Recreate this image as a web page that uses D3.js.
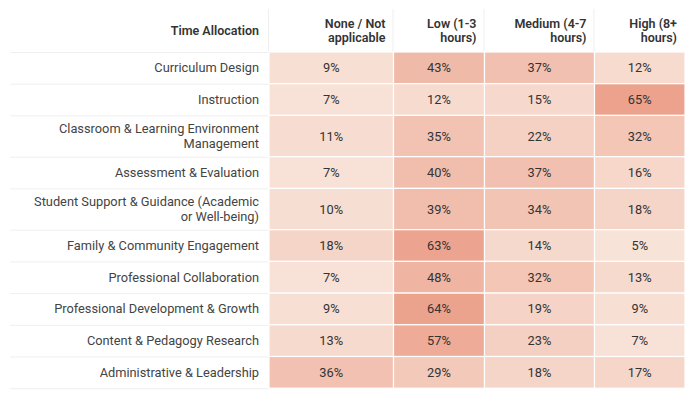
<!DOCTYPE html>
<html>
<head>
<meta charset="utf-8">
<script src="https://cdn.jsdelivr.net/npm/d3@7"></script>
<style>
  body { margin: 0; background: #fff; }
  svg text { font-family: Roboto, "Noto Sans", sans-serif; }
</style>
</head>
<body>
<svg id="chart" width="692" height="398"></svg>
<script>

// row labels ("\n" = line break as in the table)
const activities = [
  "Curriculum Design",
  "Instruction",
  "Classroom & Learning Environment\nManagement",
  "Assessment & Evaluation",
  "Student Support & Guidance (Academic\nor Well-being)",
  "Family & Community Engagement",
  "Professional Collaboration",
  "Professional Development & Growth",
  "Content & Pedagogy Research",
  "Administrative & Leadership"
];

const headerTitle = "Time Allocation";
const levels = ["None / Not\napplicable", "Low (1-3\nhours)", "Medium (4-7\nhours)", "High (8+\nhours)"];

// % of respondents per level
const none   = [9, 7, 11, 7, 10, 18, 7, 9, 13, 36];
const low    = [43, 12, 35, 40, 39, 63, 48, 64, 57, 29];
const medium = [37, 15, 22, 37, 34, 14, 32, 19, 23, 18];
const high   = [12, 65, 32, 16, 18, 5, 13, 9, 7, 17];

const series = [none, low, medium, high];

const svg = d3.select("#chart"),
  margin = {top: 9, left: 10},
  labelRight = 259,
  cellLeft = 269,
  colWidths = [124.5, 91, 110, 90.5],
  headerH = 43,
  lineH = 14.5;

// column edges
const colX = colWidths.reduce((acc, w) => (acc.push(acc[acc.length - 1] + w), acc), [cellLeft]);

// row heights from line count
const rowH = activities.map(d => d.split("\n").length > 1 ? 41.3 : 31.7);
const rowY = rowH.reduce((acc, h) => (acc.push(acc[acc.length - 1] + h), acc), [margin.top + headerH]);

const color = d3.scaleLinear()
    .domain([5, 65])
    .range(["#f8e3d8", "#eca28d"]);

const fmt = d => d + "%";

// grid lines in header + label column
const grid = svg.append("g").attr("class", "grid")
    .attr("stroke", "#efefef")
    .attr("stroke-width", 1);

grid.selectAll("line.v")
  .data(colX.slice(0, 4))
  .join("line")
    .attr("class", "v")
    .attr("x1", d => d - 0.5).attr("x2", d => d - 0.5)
    .attr("y1", margin.top).attr("y2", margin.top + headerH);

grid.selectAll("line.h")
  .data(rowY)
  .join("line")
    .attr("class", "h")
    .attr("x1", margin.left).attr("x2", cellLeft)
    .attr("y1", d => d + 0.5).attr("y2", d => d + 0.5);

// header
const head = svg.append("g").attr("class", "header")
    .attr("font-size", 12.5)
    .attr("font-weight", 600)
    .attr("fill", "#333");

head.append("text")
    .attr("x", labelRight)
    .attr("y", margin.top + headerH / 2)
    .attr("dy", "0.35em")
    .attr("text-anchor", "end")
    .text(headerTitle);

head.selectAll("text.col")
  .data(levels)
  .join("text")
    .attr("class", "col")
    .attr("text-anchor", "end")
    .attr("x", (d, i) => colX[i + 1] - 8)
    .attr("y", margin.top + headerH / 2)
  .selectAll("tspan")
  .data(d => d.split("\n"))
  .join("tspan")
    .attr("x", function() { return this.parentNode.getAttribute("x"); })
    .attr("dy", (d, i) => i === 0 ? (-lineH / 2 + 4.5) : lineH)
    .text(d => d);

// row labels
const labels = svg.append("g").attr("class", "labels")
    .attr("font-size", 12.8)
    .attr("fill", "#444");

labels.selectAll("text")
  .data(activities)
  .join("text")
    .attr("text-anchor", "end")
    .attr("x", labelRight)
    .attr("y", (d, i) => rowY[i] + rowH[i] / 2)
  .each(function(d) {
    const lines = d.split("\n");
    d3.select(this).selectAll("tspan")
      .data(lines)
      .join("tspan")
        .attr("x", labelRight)
        .attr("dy", (t, j) => j === 0 ? (-(lines.length - 1) * lineH / 2 + 4.5) : lineH)
        .text(t => t);
  });

// heat cells
const cells = svg.append("g").attr("class", "cells");

const cellData = series.flatMap((vals, c) => vals.map((v, r) => ({c, r, v})));

cells.selectAll("rect")
  .data(cellData)
  .join("rect")
    .attr("x", d => colX[d.c])
    .attr("y", d => rowY[d.r])
    .attr("width", d => colWidths[d.c])
    .attr("height", d => rowH[d.r])
    .attr("fill", d => color(d.v))
    .attr("stroke", "#fff")
    .attr("stroke-width", 1.2);

cells.selectAll("text")
  .data(cellData)
  .join("text")
    .attr("x", d => colX[d.c] + colWidths[d.c] / 2)
    .attr("y", d => rowY[d.r] + rowH[d.r] / 2)
    .attr("dy", "0.35em")
    .attr("text-anchor", "middle")
    .attr("font-size", 12.8)
    .attr("fill", "#333")
    .text(d => fmt(d.v));

</script>
</body>
</html>
